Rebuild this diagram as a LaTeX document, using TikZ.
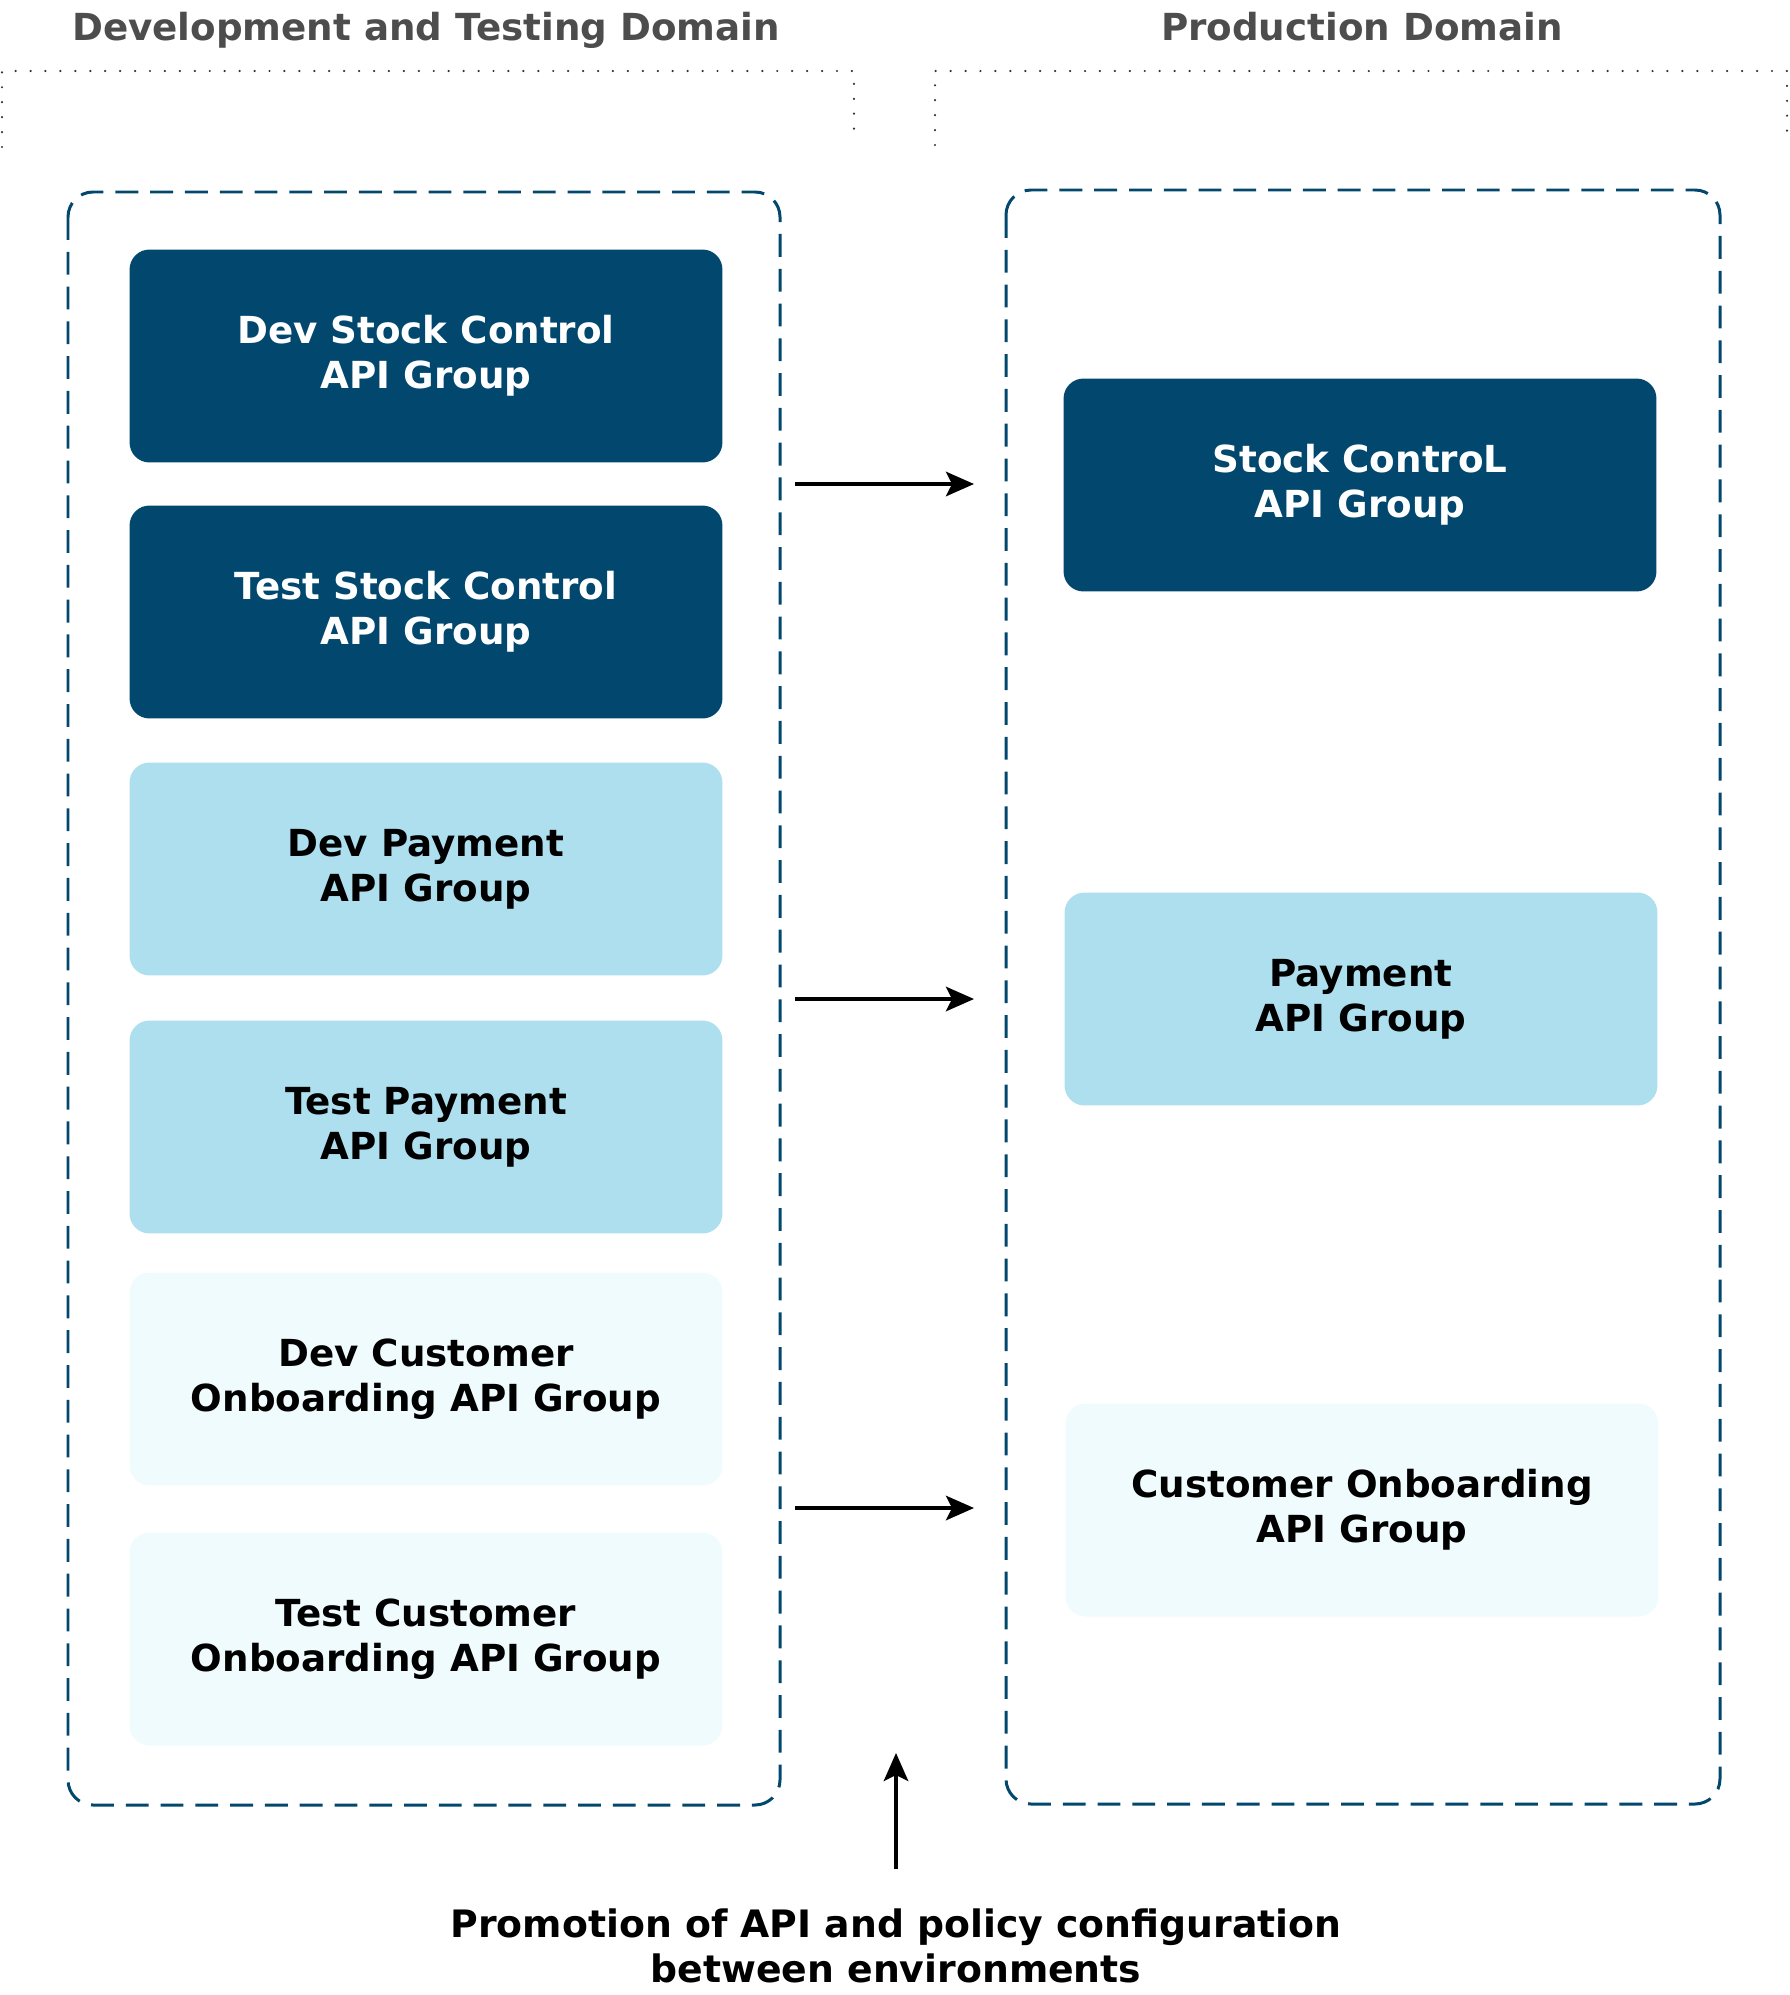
\documentclass[tikz,border=0pt]{standalone}
\usepackage{fontspec}
\setmainfont{DejaVu Sans}
\usepackage{xcolor}
\usepackage{tikz}
\usetikzlibrary{arrows.meta}
\definecolor{navy}{HTML}{02476E}
\definecolor{sky}{HTML}{ADDFEF}
\definecolor{ice}{HTML}{F0FBFE}
\definecolor{titlegray}{HTML}{4D4D4D}

\begin{document}
\begin{tikzpicture}[x=0.02cm, y=-0.02cm,
  grp/.style={rectangle, rounded corners=0.4cm, inner sep=0pt, minimum width=11.86cm, minimum height=4.26cm, align=center, font=\bfseries\fontsize{21.2}{25.5}\selectfont},
  envbox/.style={draw=navy, line width=1.7pt, dash pattern=on 13pt off 6.8pt, rounded corners=0.5cm},
  bracket/.style={draw=black!80, line width=1.4pt, line cap=round, dash pattern=on 0pt off 8.5pt},
  promote/.style={-{Stealth[length=16pt, width=14pt, inset=3.5pt]}, line width=1.8pt}]
\useasboundingbox (0,0) rectangle (1789,1995);

% domain headings
\node[anchor=base, text=titlegray, font=\bfseries\fontsize{21.2}{25}\selectfont] (devtitle) at (426,40) {Development and Testing Domain};
\node[anchor=base, text=titlegray, font=\bfseries\fontsize{21.2}{25}\selectfont] (prodtitle) at (1362,40) {Production Domain};
\draw[bracket] (2,147) |- (854,71) -- (854,137);
\draw[bracket] (935,145) |- (1787,71) -- (1787,136);

% environments
\draw[envbox] (68,192) rectangle (780,1805);
\draw[envbox] (1006,190) rectangle (1720,1804);

% dev and test groups
\node[grp, fill=navy, text=white] (devstock) at (426,356) {Dev Stock Control\\API Group};
\node[grp, fill=navy, text=white] (teststock) at (426,612) {Test Stock Control\\API Group};
\node[grp, fill=sky] (devpay) at (426,869) {Dev Payment\\API Group};
\node[grp, fill=sky] (testpay) at (426,1127) {Test Payment\\API Group};
\node[grp, fill=ice] (devcust) at (426,1379) {Dev Customer\\Onboarding API Group};
\node[grp, fill=ice] (testcust) at (426,1639) {Test Customer\\Onboarding API Group};

% production groups
\node[grp, fill=navy, text=white] (stock) at (1360,485) {Stock ControL\\API Group};
\node[grp, fill=sky] (pay) at (1361,999) {Payment\\API Group};
\node[grp, fill=ice] (cust) at (1362,1510) {Customer Onboarding\\API Group};

% promotion
\coordinate (s1) at (795,484); \coordinate (e1) at (974,484);
\coordinate (s2) at (795,999); \coordinate (e2) at (974,999);
\coordinate (s3) at (795,1508); \coordinate (e3) at (974,1508);
\draw[promote] (s1) -- (e1);
\draw[promote] (s2) -- (e2);
\draw[promote] (s3) -- (e3);
\coordinate (ptail) at (896,1869); \coordinate (ptip) at (896,1753);
\draw[promote] (ptail) -- (ptip);
\node[align=center, font=\bfseries\fontsize{21.5}{25.5}\selectfont] (promo) at (896,1946) {Promotion of API and policy configuration\\between environments};
\end{tikzpicture}
\end{document}
